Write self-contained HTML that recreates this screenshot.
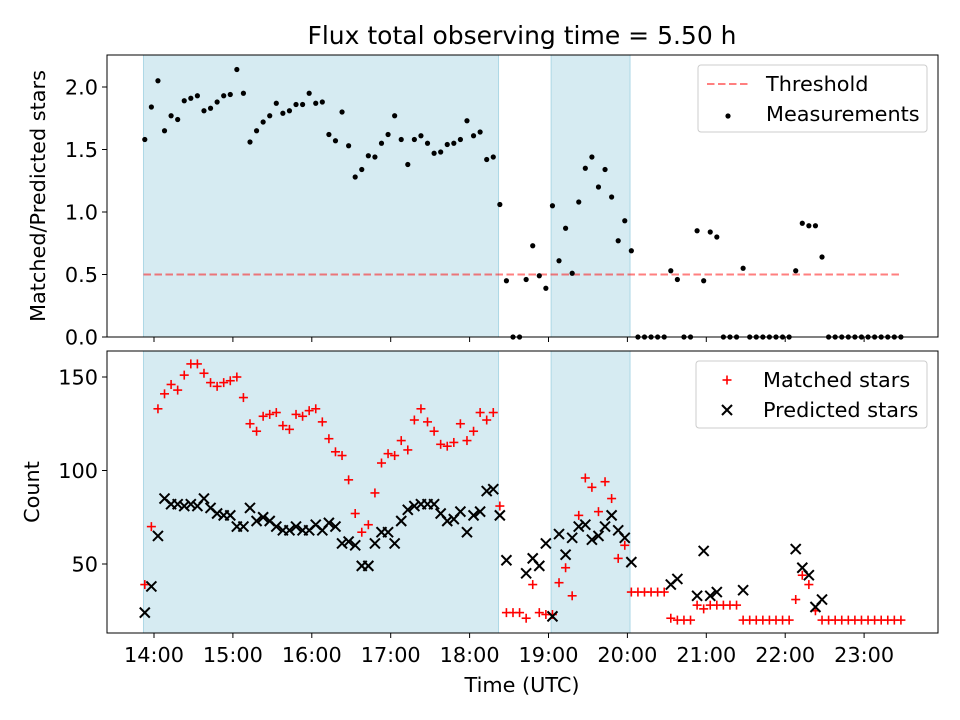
<!DOCTYPE html>
<html><head><meta charset="utf-8"><style>
html,body{margin:0;padding:0;background:#fff;}
svg{display:block;font-family:"DejaVu Sans","Liberation Sans",sans-serif;}
</style></head><body>
<svg id="chart" width="960" height="720" viewBox="0 0 960 720"></svg>
<script>
const times=[833,838,843,848,853,858,863,868,873,878,
883,888,893,898,903,908,913,918,923,928,
933,938,943,948,953,958,963,968,973,978,
983,988,993,998,1003,1008,1013,1018,1023,1028,
1033,1038,1043,1048,1053,1058,1063,1068,1073,1078,
1083,1088,1093,1098,1103,1108,1113,1118,1123,1128,
1133,1138,1143,1148,1153,1158,1163,1168,1173,1178,
1183,1188,1193,1198,1203,1208,1213,1218,1223,1228,
1233,1238,1243,1248,1253,1258,1263,1268,1273,1278,
1283,1288,1293,1298,1303,1308,1313,1318,1323,1328,
1333,1338,1343,1348,1353,1358,1363,1368,1373,1378,
1383,1388,1393,1398,1403,1408];
const ratio=[1.58,1.84,2.05,1.65,1.77,1.74,1.89,1.91,1.93,1.81,1.83,1.88,1.93,1.94,2.14,1.95,1.56,1.65,1.72,1.77,1.87,1.79,1.81,1.86,1.86,1.95,1.87,1.88,1.62,1.57,1.80,1.53,1.28,1.34,1.45,1.44,1.55,1.62,1.77,1.58,1.38,1.58,1.61,1.55,1.47,1.48,1.54,1.55,1.58,1.73,1.61,1.64,1.42,1.44,1.06,
0.45,0,0,0.46,0.73,0.49,0.39,1.05,0.61,0.87,0.51,1.08,1.35,1.44,1.20,1.34,1.12,0.77,0.93,0.69,
0,0,0,0,0,0.53,0.46,0,0,0.85,0.45,0.84,0.80,0,0,0,0.55,0,0,0,0,0,0,0,0.53,0.91,0.89,0.89,0.64,
0,0,0,0,0,0,0,0,0,0,0,0];
const matched=[39,70,133,141,146,143,151,157,157,152,147,145,147,148,150,139,125,121,129,130,131,124,122,130,129,132,133,126,117,110,108,95,77,67,71,88,104,109,108,116,111,127,133,126,121,114,113,115,125,116,121,131,127,131,81,
24,24,24,21,39,24,23,23,40,48,33,76,96,91,78,94,85,53,60,35,
35,35,35,35,35,21,20,20,20,28,26,28,28,28,28,28,20,20,20,20,20,20,20,20,31,44,39,25,20,
20,20,20,20,20,20,20,20,20,20,20,20];
const predicted=[24,38,65,85,82,82,81,82,81,85,80,77,76,76,70,70,80,73,75,73,70,68,68,70,68,68,71,68,72,70,61,62,60,49,49,61,67,67,61,73,79,81,82,82,82,77,73,74,78,67,76,78,89,90,76,
52,null,null,45,53,49,61,22,66,55,64,70,71,63,65,70,76,68,64,51,
null,null,null,null,null,39,42,null,null,33,57,33,35,null,null,null,36,null,null,null,null,null,null,null,58,48,44,27,31,
null,null,null,null,null,null,null,null,null,null,null,null];
const shades=[[832,1102],[1142,1202]];
const threshold=0.5;
const threshRange=[832,1408];
const xTicks=[840,900,960,1020,1080,1140,1200,1260,1320,1380];
const xTickLabels=["14:00","15:00","16:00","17:00","18:00","19:00","20:00","21:00","22:00","23:00"];
const yTopTicks=[0,0.5,1.0,1.5,2.0];
const yTopLabels=["0.0","0.5","1.0","1.5","2.0"];
const yBotTicks=[50,100,150];
const yBotLabels=["50","100","150"];

const NS="http://www.w3.org/2000/svg";
const svg=document.getElementById('chart');
const FS=20.8;
function mk(tag,attrs,parent){const e=document.createElementNS(NS,tag);for(const k in attrs)e.setAttribute(k,attrs[k]);(parent||svg).appendChild(e);return e;}
const L=107,R=938;
const xs=m=>154+(m-840)*78.9/60;
const T={top:55,bot:337,y:v=>337-v*125};
const B={top:351,bot:633,y:v=>377+(150-v)*1.87};

function panel(P,name){
  const g=mk('g',{});
  
  
  shades.forEach((s,i)=>{
    const r=mk('rect',{x:xs(s[0]),y:P.top,width:xs(s[1])-xs(s[0]),height:P.bot-P.top,fill:'#add8e6','fill-opacity':0.5,stroke:'#add8e6','stroke-width':1},g);
    
    
  });
  return g;
}
function frame(P,name,yTicks,yLabels,yfn,showX){
  const f=mk('rect',{x:L,y:P.top,width:R-L,height:P.bot-P.top,fill:'none',stroke:'#000','stroke-width':1});
  
  
  xTicks.forEach((t,i)=>{
    mk('line',{x1:xs(t),x2:xs(t),y1:P.bot,y2:P.bot+5,stroke:'#000','stroke-width':1});
    if(showX){const tx=mk('text',{x:xs(t),y:P.bot+29,'text-anchor':'middle','font-size':FS},svg);tx.textContent=xTickLabels[i];
      
      }
  });
  yTicks.forEach((t,i)=>{
    const y=yfn(t);
    mk('line',{x1:L-5,x2:L,y1:y,y2:y,stroke:'#000','stroke-width':1});
    const tx=mk('text',{x:L-9,y:y+7.5,'text-anchor':'end','font-size':FS});tx.textContent=yLabels[i];
    
    
  });
}
panel(T,'top-panel');
const th=mk('line',{x1:xs(threshRange[0]),x2:xs(threshRange[1]),y1:T.y(threshold),y2:T.y(threshold),stroke:'#ff0000','stroke-opacity':0.5,'stroke-width':2,'stroke-dasharray':'7.5,3.5'});


times.forEach((m,i)=>{
  const c=mk('circle',{cx:xs(m),cy:T.y(ratio[i]),r:2.6,fill:'#000'});
  
  
});
frame(T,'top-axes',yTopTicks,yTopLabels,T.y,false);
panel(B,'bottom-panel');
function plus(x,y,col,name){const g=mk('g',{stroke:col,'stroke-width':1.6});mk('line',{x1:x-4.5,x2:x+4.5,y1:y,y2:y},g);mk('line',{x1:x,x2:x,y1:y-4.5,y2:y+4.5},g);return g;}
function cross(x,y,col,name){const g=mk('g',{stroke:col,'stroke-width':2});mk('line',{x1:x-5,x2:x+5,y1:y-5,y2:y+5},g);mk('line',{x1:x-5,x2:x+5,y1:y+5,y2:y-5},g);return g;}
times.forEach((m,i)=>{ if(matched[i]!=null) plus(xs(m),B.y(matched[i]),'#ff0000','matched-point'); });
times.forEach((m,i)=>{ if(predicted[i]!=null) cross(xs(m),B.y(predicted[i]),'#000','predicted-point'); });
frame(B,'bottom-axes',yBotTicks,yBotLabels,B.y,true);
function text(x,y,s,size,name,rot){const t=mk('text',{x:x,y:y,'text-anchor':'middle','font-size':size});if(rot)t.setAttribute('transform',`rotate(-90 ${x} ${y})`);t.textContent=s;return t;}
text(522,44,'Flux total observing time = 5.50 h',25,'chart-title');
text(45,196,'Matched/Predicted stars',FS,'y-axis-title-top',true);
text(39,492,'Count',FS,'y-axis-title-bottom',true);
text(522,692,'Time (UTC)',FS,'x-axis-title');
function legendBox(x,y,w,h,name){const r=mk('rect',{x:x,y:y,width:w,height:h,rx:3,fill:'#fff','fill-opacity':0.8,stroke:'#ccc','stroke-width':1});}
function ltext(x,y,s,name){const t=mk('text',{x:x,y:y,'font-size':FS});t.textContent=s;}
legendBox(698,65,229,67,'top-legend');
const ll=mk('line',{x1:707,x2:748,y1:84,y2:84,stroke:'#ff0000','stroke-opacity':0.5,'stroke-width':2,'stroke-dasharray':'7.5,3.5'});


ltext(766,91,'Threshold','legend-threshold');
const lc=mk('circle',{cx:728,cy:116,r:2.6,fill:'#000'});


ltext(766,121,'Measurements','legend-measurements');
legendBox(696,361,231,67,'bottom-legend');
plus(727,380,'#ff0000','legend-matched-swatch');
ltext(763,387,'Matched stars','legend-matched');
cross(727,410,'#000','legend-predicted-swatch');
ltext(763,417,'Predicted stars','legend-predicted');
</script>
</body></html>
